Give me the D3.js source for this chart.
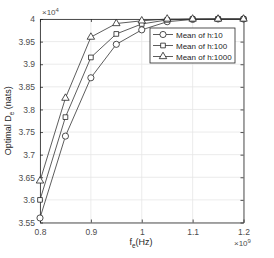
<!DOCTYPE html>
<html>
<head>
<meta charset="utf-8">
<script src="https://cdn.jsdelivr.net/npm/d3@7"></script>
<style>
  body { margin: 0; background: #fff; }
  svg { display: block; font-family: "Liberation Sans", Arial, sans-serif; }
</style>
</head>
<body>
<svg id="chart" width="274" height="258"></svg>
<script>
// frequencies (x 1e9 Hz)
const freqs = [0.8, 0.85, 0.9, 0.95, 1.0, 1.05, 1.1, 1.15, 1.2];
// optimal D_e (x 1e4 nats)
const h10 = [3.560, 3.741, 3.870, 3.944, 3.976, 3.994, 3.999, 4.0, 4.0];
const h100 = [3.600, 3.783, 3.915, 3.967, 3.989, 3.998, 4.0, 4.0, 4.0];
const h1000 = [3.642, 3.825, 3.960, 3.990, 3.996, 4.0, 4.0, 4.0, 4.0];
const seriesNames = ["Mean of h:10", "Mean of h:100", "Mean of h:1000"];
const markers = ["circle", "square", "triangle"];
const xTicks = [0.8, 0.9, 1.0, 1.1, 1.2];
const yTicks = [3.55, 3.6, 3.65, 3.7, 3.75, 3.8, 3.85, 3.9, 3.95, 4.0];

const series = [h10, h100, h1000].map((vals, i) => ({
  name: seriesNames[i],
  marker: markers[i],
  points: vals.map((v, j) => ({ x: freqs[j], y: v }))
}));

const svg = d3.select("#chart");
const margin = { left: 40, right: 30.5, top: 19, bottom: 35.5 };
const W = 274, H = 258;
const axisCol = "#262626";
const tickCol = "#4d4d4d";

const x = d3.scaleLinear().domain([0.8, 1.2]).range([margin.left, W - margin.right]);
const y = d3.scaleLinear().domain([3.55, 4.0]).range([H - margin.bottom, margin.top]);

// grid
const grid = svg.append("g");
grid.selectAll(".gx").data(xTicks).enter().append("line")
  .attr("x1", d => x(d)).attr("x2", d => x(d))
  .attr("y1", y(3.55)).attr("y2", y(4.0))
  .attr("stroke", "#e6e6e6").attr("stroke-width", 0.8);
grid.selectAll(".gy").data(yTicks).enter().append("line")
  .attr("y1", d => y(d)).attr("y2", d => y(d))
  .attr("x1", x(0.8)).attr("x2", x(1.2))
  .attr("stroke", "#e6e6e6").attr("stroke-width", 0.8);

// axes
function styleAxis(g) {
  g.select(".domain").attr("stroke", axisCol).attr("stroke-width", 0.8);
  g.selectAll(".tick line").attr("stroke", axisCol).attr("stroke-width", 0.8);
  g.selectAll(".tick text").attr("fill", tickCol).attr("font-size", 8.5);
}
svg.append("g").attr("transform", `translate(0,${y(3.55)})`)
  .call(d3.axisBottom(x).tickValues(xTicks).tickFormat(d3.format("")).tickSizeInner(-3).tickSizeOuter(0).tickPadding(6))
  .call(styleAxis);
svg.append("g").attr("transform", `translate(${x(0.8)},0)`)
  .call(d3.axisLeft(y).tickValues(yTicks).tickFormat(d3.format("")).tickSizeInner(-3).tickSizeOuter(0).tickPadding(5))
  .call(styleAxis);
svg.append("g").attr("transform", `translate(0,${y(4.0)})`)
  .call(d3.axisTop(x).tickValues(xTicks).tickFormat("").tickSizeInner(-3).tickSizeOuter(0))
  .call(styleAxis);
svg.append("g").attr("transform", `translate(${x(1.2)},0)`)
  .call(d3.axisRight(y).tickValues(yTicks).tickFormat("").tickSizeInner(-3).tickSizeOuter(0))
  .call(styleAxis);

// lines
const line = d3.line().x(d => x(d.x)).y(d => y(d.y));
const symbolType = { circle: d3.symbolCircle, square: d3.symbolSquare, triangle: d3.symbolTriangle };
const symbolSize = { circle: 30, square: 22, triangle: 24 };

series.forEach(s => {
  svg.append("path").datum(s.points)
    .attr("d", line).attr("fill", "none")
    .attr("stroke", "#333").attr("stroke-width", 0.8);
});
series.forEach(s => {
  svg.selectAll(null).data(s.points).enter().append("path")
    .attr("transform", d => `translate(${x(d.x)},${y(d.y)})`)
    .attr("d", d3.symbol().type(symbolType[s.marker]).size(symbolSize[s.marker]))
    .attr("fill", "#fff").attr("stroke", "#222").attr("stroke-width", 0.8);
});

// exponent labels
const e4 = svg.append("text").attr("x", 42).attr("y", 15).attr("fill", tickCol).attr("font-size", 8);
e4.append("tspan").text("\u00d710");
e4.append("tspan").attr("dy", -3).attr("font-size", 6).text("4");
const e9 = svg.append("text").attr("x", 234).attr("y", 246).attr("fill", tickCol).attr("font-size", 8);
e9.append("tspan").text("\u00d710");
e9.append("tspan").attr("dy", -3).attr("font-size", 6).text("9");

// axis titles
const xl = svg.append("text").attr("x", 141).attr("y", 245).attr("text-anchor", "middle")
  .attr("fill", axisCol).attr("font-size", 9);
xl.append("tspan").text("f");
xl.append("tspan").attr("dy", 3).attr("font-size", 6.5).text("e");
xl.append("tspan").attr("dy", -3).text("(Hz)");

const yl = svg.append("text").attr("transform", `translate(11,${y(3.775)}) rotate(-90)`)
  .attr("text-anchor", "middle").attr("fill", axisCol).attr("font-size", 9);
yl.append("tspan").text("Optimal D");
yl.append("tspan").attr("dy", 3).attr("font-size", 6.5).text("e");
yl.append("tspan").attr("dy", -3).text(" (nats)");

// legend
const lg = svg.append("g").attr("transform", "translate(150,28)");
lg.append("rect").attr("width", 85).attr("height", 35)
  .attr("fill", "#fff").attr("stroke", axisCol).attr("stroke-width", 0.8);
series.forEach((s, i) => {
  const row = lg.append("g").attr("transform", `translate(0,${6.5 + i * 11})`);
  row.append("line").attr("x1", 3).attr("x2", 23).attr("stroke", "#333").attr("stroke-width", 0.8);
  row.append("path").attr("transform", "translate(13,0)")
    .attr("d", d3.symbol().type(symbolType[s.marker]).size(symbolSize[s.marker]))
    .attr("fill", "#fff").attr("stroke", "#222").attr("stroke-width", 0.8);
  row.append("text").attr("x", 26).attr("y", 3).attr("font-size", 8)
    .attr("fill", axisCol).text(s.name);
});
</script>
</body>
</html>
